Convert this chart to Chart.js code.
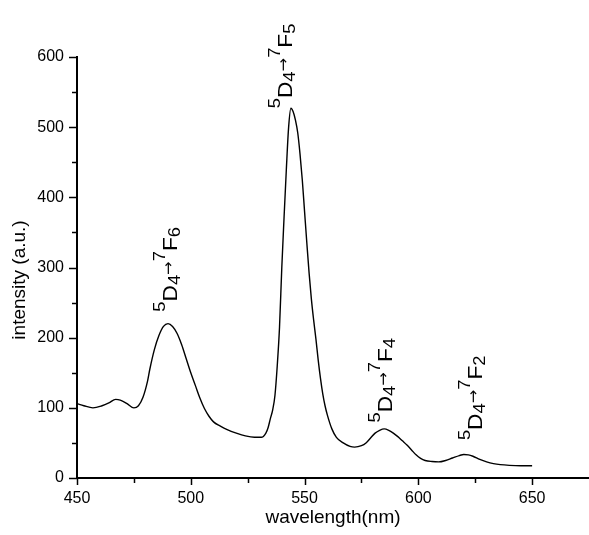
<!DOCTYPE html>
<html>
<head>
<meta charset="utf-8">
<script src="https://cdn.jsdelivr.net/npm/chart.js@4"></script>
<style>
  html, body { margin: 0; padding: 0; background: #fff; }
  #wrap { width: 589px; height: 535px; }
</style>
</head>
<body>
<div id="wrap"><canvas id="myChart" width="589" height="535"></canvas></div>
<script>
// spectrum
const wavelength = [450, 453, 457, 461, 464, 467, 469, 472, 475, 477, 479, 481, 482, 484, 486, 488, 490, 492, 494, 496, 498, 500,
  502, 504, 506, 508, 510, 513, 516, 520, 524, 528, 531, 533, 534, 535, 536, 537, 538, 539, 540, 541, 542, 543, 544, 545,
  546, 547, 548, 549, 550, 551, 552, 553, 554, 555, 556, 557, 558, 559, 560, 562, 564, 567, 570, 572, 575, 577, 579, 581,
  583, 585, 587, 589, 591, 593, 595, 597, 599, 601, 603, 606, 609, 612, 615, 618, 620, 622, 624, 627, 630, 633, 636,
  640, 645, 650];
const intensity = [106, 103, 100, 103, 107, 112, 111, 106, 100, 103, 115, 138, 155, 183, 203, 216, 220, 216, 206, 190, 170, 150,
  132, 114, 99, 88, 80, 74, 69, 64, 60, 58, 58, 64, 72, 85, 97, 118, 160, 215, 300, 372, 440, 500, 527, 522,
  510, 492, 462, 425, 380, 335, 292, 255, 225, 198, 168, 142, 120, 103, 90, 70, 58, 50, 45, 44, 46, 50, 57, 64,
  68, 70, 68, 64, 59, 53, 47, 40, 33, 28, 25, 23.5, 23, 25, 28.5, 32, 33.5, 33, 31, 26.5, 23, 20.5, 19,
  18, 17.5, 17.5];

// transition labels: upper level 5D4 -> 7F(j)
const labelJ = ['6', '5', '4', '2'];
const labelWl = [494, 544.4, 588.5, 627.8];
const labelY = [237, 527, 79, 54];

const xTicks = [450, 500, 550, 600, 650];
const yTicks = [0, 100, 200, 300, 400, 500, 600];

const FONT = '"Liberation Sans", Arial, sans-serif';

var points = wavelength.map(function (w, i) { return { x: w, y: intensity[i] }; });

// ticks (major + minor) drawn outward, plus labels and y title
const extras = {
  id: 'extras',
  afterDraw: function (chart) {
    var c = chart.ctx;
    var xs = chart.scales.x, ys = chart.scales.y;
    var area = chart.chartArea;
    c.save();
    c.strokeStyle = '#000';
    c.lineWidth = 1.5;
    for (var v = 450; v <= 675; v += 25) {
      var px = Math.round(xs.getPixelForValue(v)) + 0.5;
      if (px > area.right) continue;
      var len = (v % 50 === 0) ? 7 : 5;
      c.beginPath(); c.moveTo(px, area.bottom); c.lineTo(px, area.bottom + len); c.stroke();
    }
    for (var w = 0; w <= 600; w += 50) {
      var py = Math.round(ys.getPixelForValue(w)) + 0.5;
      var l2 = (w % 100 === 0) ? 8 : 5;
      c.beginPath(); c.moveTo(area.left, py); c.lineTo(area.left - l2, py); c.stroke();
    }

    // y title
    c.fillStyle = '#000';
    c.font = '19px ' + FONT;
    c.textAlign = 'center';
    c.textBaseline = 'middle';
    c.translate(20, 280);
    c.rotate(-Math.PI / 2);
    c.fillText('intensity (a.u.)', 0, 0);
    c.restore();

    labelJ.forEach(function (j, i) {
      drawTransition(c, xs.getPixelForValue(labelWl[i]), ys.getPixelForValue(labelY[i]), j);
    });
  }
};

function drawTransition(c, bx, by, j) {
  var parts = [
    ['5', '17px ' + FONT, -12], ['D', '21px ' + FONT, 0], ['4', '17px ' + FONT, 3],
    ['\u2192', '15px "DejaVu Sans", sans-serif', -4],
    ['7', '17px ' + FONT, -12], ['F', '21px ' + FONT, 0], [j, '17px ' + FONT, 3]
  ];
  c.save();
  c.translate(bx, by);
  c.rotate(-Math.PI / 2);
  c.scale(1.08, 1);
  c.fillStyle = '#000';
  c.textAlign = 'left';
  c.textBaseline = 'alphabetic';
  var x = 0;
  parts.forEach(function (p) {
    c.font = p[1];
    c.fillText(p[0], x, p[2]);
    x += c.measureText(p[0]).width;
  });
  c.restore();
}

new Chart(document.getElementById('myChart'), {
  type: 'line',
  data: {
    datasets: [{
      data: points,
      borderColor: '#000',
      borderWidth: 1.4,
      pointRadius: 0,
      fill: false,
      cubicInterpolationMode: 'monotone'
    }]
  },
  options: {
    responsive: false,
    animation: false,
    events: [],
    layout: { padding: { top: 57, right: 0, left: 0, bottom: 0 } },
    plugins: { legend: { display: false }, tooltip: { enabled: false } },
    scales: {
      x: {
        type: 'linear',
        min: 450,
        max: 675,
        grid: { display: false, drawTicks: false },
        border: { display: true, color: '#000', width: 2 },
        afterFit: function (s) { s.height = 57; },
        afterBuildTicks: function (s) { s.ticks = xTicks.map(function (v) { return { value: v }; }); },
        ticks: {
          autoSkip: false,
          maxRotation: 0,
          padding: 11,
          color: '#000',
          font: { family: FONT, size: 16 }
        },
        title: {
          display: true,
          text: 'wavelength(nm)',
          color: '#000',
          font: { family: FONT, size: 19 },
          padding: { top: 0, bottom: 6 }
        }
      },
      y: {
        min: 0,
        max: 600,
        grid: { display: false, drawTicks: false },
        border: { display: true, color: '#000', width: 2 },
        afterFit: function (s) { s.width = 77; },
        afterBuildTicks: function (s) { s.ticks = yTicks.map(function (v) { return { value: v }; }); },
        ticks: {
          padding: 13,
          color: '#000',
          font: { family: FONT, size: 16 }
        }
      }
    }
  },
  plugins: [extras]
});
</script>
</body>
</html>
